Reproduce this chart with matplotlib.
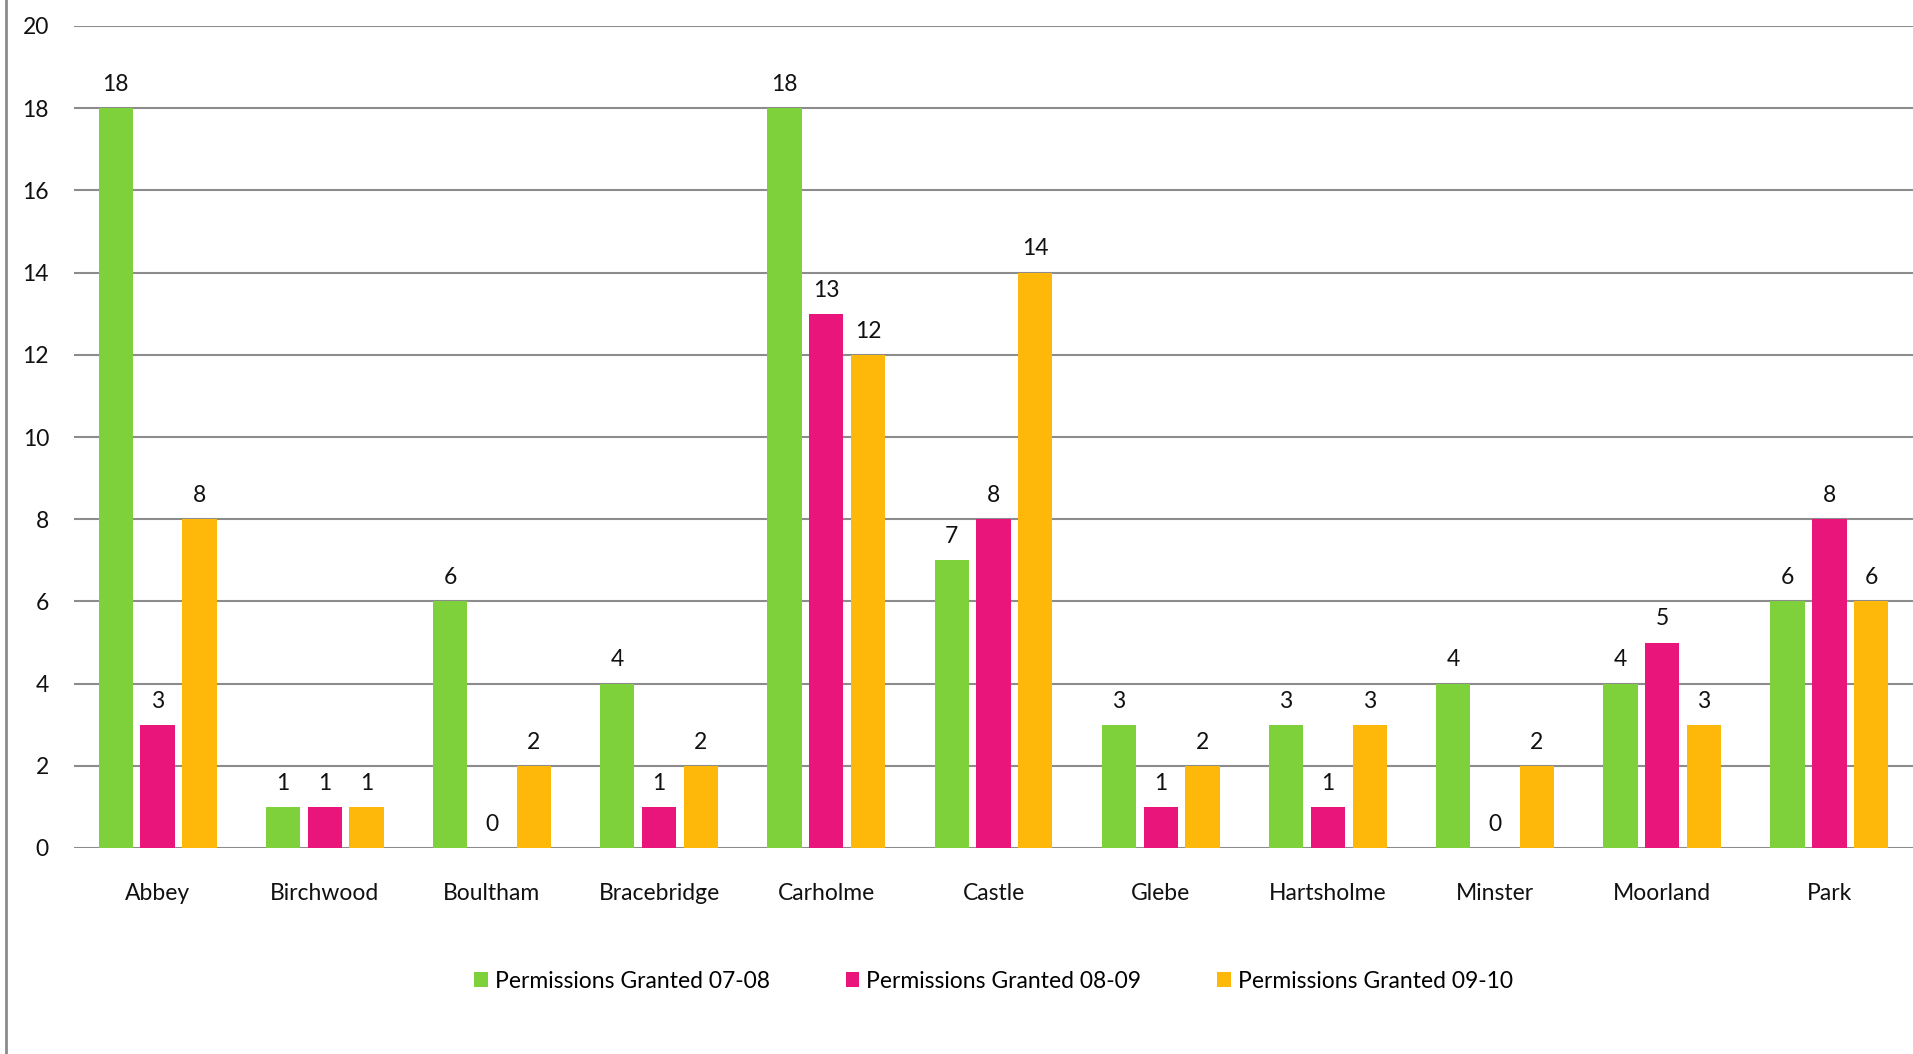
import numpy as np
import matplotlib.pyplot as plt
from matplotlib.lines import Line2D

plt.rcParams['font.family'] = ['Lato', 'DejaVu Sans']

wards = ['Abbey', 'Birchwood', 'Boultham', 'Bracebridge', 'Carholme', 'Castle',
         'Glebe', 'Hartsholme', 'Minster', 'Moorland', 'Park']
granted_07_08 = [18, 1, 6, 4, 18, 7, 3, 3, 4, 4, 6]
granted_08_09 = [3, 1, 0, 1, 13, 8, 1, 1, 0, 5, 8]
granted_09_10 = [8, 1, 2, 2, 12, 14, 2, 3, 2, 3, 6]
series_names = ['Permissions Granted 07-08', 'Permissions Granted 08-09',
                'Permissions Granted 09-10']
colors = ['#7FD13B', '#EA157A', '#FEB80A']

fig = plt.figure(figsize=(19.13, 10.54), dpi=100)
ax = fig.add_axes([74 / 1913, 1 - 848 / 1054, 1 - 74 / 1913, (848 - 26) / 1054])

x = np.arange(len(wards))
offsets = [-0.25, 0.0, 0.25]
width = 0.205
for vals, name, col, off in zip([granted_07_08, granted_08_09, granted_09_10],
                                series_names, colors, offsets):
    bars = ax.bar(x + off, vals, width, color=col, label=name, zorder=3)
    for b, v in zip(bars, vals):
        ax.annotate(str(v), (b.get_x() + b.get_width() / 2, v),
                    xytext=(0, 9.5), textcoords='offset points',
                    ha='center', va='bottom', fontsize=16.5, color='#111111')

ax.set_xlim(-0.5, 10.5)
ax.set_ylim(0, 20)
ax.set_yticks(range(0, 21, 2))
ax.yaxis.grid(True, color='#8c8c8c', linewidth=1.5, zorder=0)
ax.set_axisbelow(True)
for s in ax.spines.values():
    s.set_visible(False)
ax.set_xticks(x)
ax.set_xticklabels(wards)
ax.tick_params(axis='both', length=0, labelsize=16.5, colors='#111111')
ax.tick_params(axis='y', pad=18)
ax.tick_params(axis='x', pad=25)

ax.legend(loc='center', bbox_to_anchor=(0.5, (848 - 981) / 822), ncol=3,
          frameon=False, fontsize=16.5, handlelength=0.6, handleheight=0.6,
          handletextpad=0.3, columnspacing=3.3)

fig.add_artist(Line2D([6 / 1913, 6 / 1913], [0, 1], color='#8c8c8c', linewidth=2,
                      transform=fig.transFigure))

fig.savefig('out.png', dpi=100)
